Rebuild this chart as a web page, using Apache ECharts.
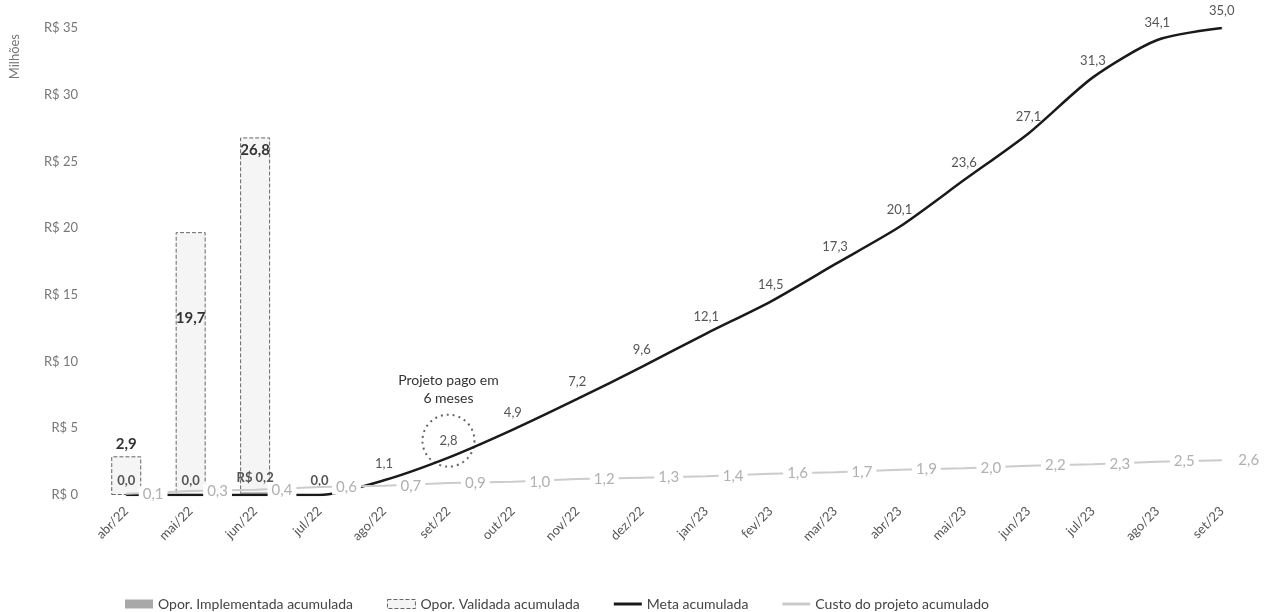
<!DOCTYPE html>
<html>
<head>
<meta charset="utf-8">
<script src="https://cdn.jsdelivr.net/npm/echarts@6/dist/echarts.min.js"></script>
<style>
html,body{margin:0;padding:0;background:#fff;}
#chart{width:1265px;height:612px;}
</style>
</head>
<body>
<div id="chart"></div>
<script>
var categories = ['abr/22','mai/22','jun/22','jul/22','ago/22','set/22','out/22','nov/22','dez/22','jan/23','fev/23','mar/23','abr/23','mai/23','jun/23','jul/23','ago/23','set/23'];
var implementada = [0, 0, 0.2, 0, null, null, null, null, null, null, null, null, null, null, null, null, null, null];
var validada = [2.9, 19.7, 26.8, null, null, null, null, null, null, null, null, null, null, null, null, null, null, null];
var meta = [0, 0, 0, 0, 1.1, 2.8, 4.9, 7.2, 9.6, 12.1, 14.5, 17.3, 20.1, 23.6, 27.1, 31.3, 34.1, 35.0];
var custo = [0.1, 0.3, 0.4, 0.6, 0.7, 0.9, 1.0, 1.2, 1.3, 1.4, 1.6, 1.7, 1.9, 2.0, 2.2, 2.3, 2.5, 2.6];
var yTicks = {min: 0, max: 35, interval: 5};
var annotationText = 'Projeto pago em\n6 meses';
var annotationCategory = 'set/22';

function fmt(v){ return v.toFixed(1).replace('.', ','); }

var FONT = 'Lato, "Open Sans", sans-serif';
var chart = echarts.init(document.getElementById('chart'));

var validadaPos = ['top', 'inside', 'insideTop'];
var validadaData = validada.map(function(v, i){
  if (v === null) return null;
  return {value: v, label: {position: validadaPos[i] || 'top', offset: i === 1 ? [0, -45] : [0, 0]}};
});

var metaIdx = categories.indexOf(annotationCategory);
var lineIcon = 'path://M0,0H28V3H0Z';

chart.setOption({
  animation: false,
  textStyle: {fontFamily: FONT},
  grid: {left: 94, right: 11, top: 28, bottom: 117, containLabel: false},
  graphic: [{
    type: 'text', left: 8, top: 34, rotation: Math.PI / 2,
    style: {text: 'Milhões', fill: '#777', font: '13px ' + FONT}
  }],
  legend: {
    left: 120, top: 592, itemWidth: 28, itemHeight: 9, itemGap: 34,
    textStyle: {color: '#444', fontSize: 14, fontFamily: FONT},
    data: [
      {name: 'Opor. Implementada acumulada', icon: 'rect'},
      {name: 'Opor. Validada acumulada', icon: 'rect', itemStyle: {borderType: 'dashed', borderColor: '#666', borderWidth: 1, color: '#f4f4f4'}},
      {name: 'Meta acumulada', icon: lineIcon, itemStyle: {color: '#1a1a1a'}},
      {name: 'Custo do projeto acumulado', icon: lineIcon, itemStyle: {color: '#cccccc'}}
    ]
  },
  xAxis: {
    type: 'category', data: categories, boundaryGap: true,
    axisLine: {show: false}, axisTick: {show: false},
    axisLabel: {rotate: 45, color: '#555', fontSize: 13, margin: 14, interval: 0, fontFamily: FONT}
  },
  yAxis: {
    type: 'value', min: yTicks.min, max: yTicks.max, interval: yTicks.interval,
    splitLine: {show: false}, axisLine: {show: false}, axisTick: {show: false},
    axisLabel: {color: '#777', fontSize: 13, margin: 16, fontFamily: FONT, formatter: function(v){ return 'R$ ' + v; }}
  },
  series: [
    {
      name: 'Opor. Implementada acumulada', type: 'bar', data: implementada,
      barWidth: 30, barGap: '-100%', z: 4,
      itemStyle: {color: '#a8a8a8'},
      label: {show: true, position: 'top', distance: 8, color: '#555', fontSize: 13, fontWeight: 'bold',
        formatter: function(p){ return p.value > 0 ? 'R$ ' + fmt(p.value) : fmt(p.value); }}
    },
    {
      name: 'Opor. Validada acumulada', type: 'bar', data: validadaData,
      barWidth: 30, barGap: '-100%', z: 2,
      itemStyle: {color: 'rgba(238,238,238,0.6)', borderColor: '#666', borderWidth: 1, borderType: 'dashed'},
      label: {show: true, color: '#333', fontSize: 15, fontWeight: 'bold',
        formatter: function(p){ return fmt(p.value); }}
    },
    {
      name: 'Meta acumulada', type: 'line', data: meta, smooth: 0.25,
      symbol: 'circle', symbolSize: 1, showSymbol: true, z: 5,
      lineStyle: {color: '#1a1a1a', width: 2.5}, itemStyle: {color: '#1a1a1a'},
      label: {show: true, position: 'top', distance: 10, color: '#555', fontSize: 13,
        formatter: function(p){ return p.dataIndex < 4 ? '' : fmt(p.value); }},
      markPoint: {
        symbol: 'circle', symbolSize: 52, symbolOffset: [0, -17], silent: true,
        itemStyle: {color: 'rgba(0,0,0,0)', borderColor: '#666', borderWidth: 2, borderType: [2, 4]},
        label: {show: true, position: 'top', distance: 6, color: '#333', fontSize: 14, lineHeight: 18,
          formatter: annotationText},
        data: [{coord: [annotationCategory, meta[metaIdx]]}]
      }
    },
    {
      name: 'Custo do projeto acumulado', type: 'line', data: custo,
      symbol: 'circle', symbolSize: 1, showSymbol: true, z: 6,
      lineStyle: {color: '#cccccc', width: 2}, itemStyle: {color: '#cccccc'},
      label: {show: true, position: 'right', distance: 12, color: '#b0b0b0', fontSize: 15,
        backgroundColor: '#fff', padding: [0, 4],
        formatter: function(p){ return fmt(p.value); }}
    }
  ]
});
</script>
</body>
</html>
